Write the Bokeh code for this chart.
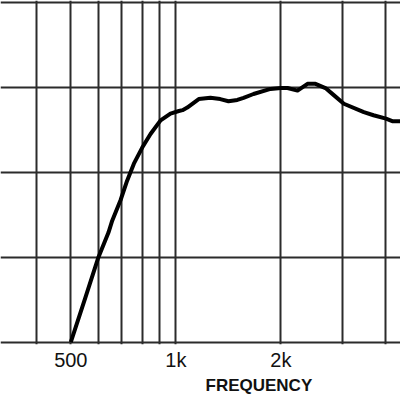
from bokeh.plotting import figure
from bokeh.models import FixedTicker, Range1d, Title
from bokeh.embed import file_html
from bokeh.resources import INLINE

# Frequency response (Hz vs relative level, dB)
freq = [500, 551, 600, 641, 657, 694, 725, 758, 801, 846, 904, 965, 1020, 1045,
        1078, 1163, 1256, 1340, 1415, 1500, 1563, 1669, 1867, 2000, 2089, 2231,
        2383, 2512, 2683, 2829, 3029, 3456, 3684, 4000, 4169, 4402]
level = [0.0, 5.3, 10.0, 12.9, 14.3, 16.7, 19.0, 21.0, 22.9, 24.5, 26.1, 26.9,
         27.2, 27.3, 27.6, 28.6, 28.75, 28.6, 28.35, 28.5, 28.75, 29.2, 29.8,
         29.9, 29.9, 29.6, 30.4, 30.4, 29.9, 29.1, 28.05, 27.06, 26.7, 26.3,
         26.0, 26.0]

grid_freqs = [400, 500, 600, 700, 800, 900, 1000, 2000, 3000, 4000]
grid_levels = [0, 10, 20, 30, 40]
label_ticks = [500, 1000, 2000]
label_text = {500: "500", 1000: "1k", 2000: "2k"}

FONT = "Liberation Sans"

p = figure(width=400, height=400, x_axis_type="log",
           x_range=Range1d(314.4, 4402), y_range=Range1d(-0.27, 40.2),
           output_backend="svg", toolbar_location=None,
           min_border_left=0, min_border_right=0, min_border_top=0,
           min_border_bottom=56)
p.outline_line_color = None
p.background_fill_color = "white"
p.border_fill_color = "white"

p.xgrid.ticker = FixedTicker(ticks=grid_freqs, minor_ticks=[])
p.ygrid.ticker = FixedTicker(ticks=grid_levels, minor_ticks=[])
for g in (p.xgrid, p.ygrid):
    g.grid_line_color = "#2b2b2b"
    g.grid_line_width = 2
    g.grid_line_alpha = 1.0

p.yaxis.visible = False
ax = p.xaxis[0]
ax.ticker = FixedTicker(ticks=label_ticks, minor_ticks=[])
ax.major_label_overrides = label_text
ax.axis_line_color = None
ax.major_tick_line_color = None
ax.minor_tick_line_color = None
ax.major_tick_out = 0
ax.major_tick_in = 0
ax.minor_tick_out = 0
ax.major_label_text_font = FONT
ax.major_label_text_font_size = "20px"
ax.major_label_text_color = "#111111"
ax.major_label_standoff = 4

title = Title(text="FREQUENCY", align="left", offset=205, standoff=0,
              text_font=FONT, text_font_size="17px", text_font_style="bold",
              text_color="#111111")
p.add_layout(title, "below")

p.line(freq, level, line_color="black", line_width=4, line_join="round")

open("out.html", "w").write(file_html(p, INLINE))
